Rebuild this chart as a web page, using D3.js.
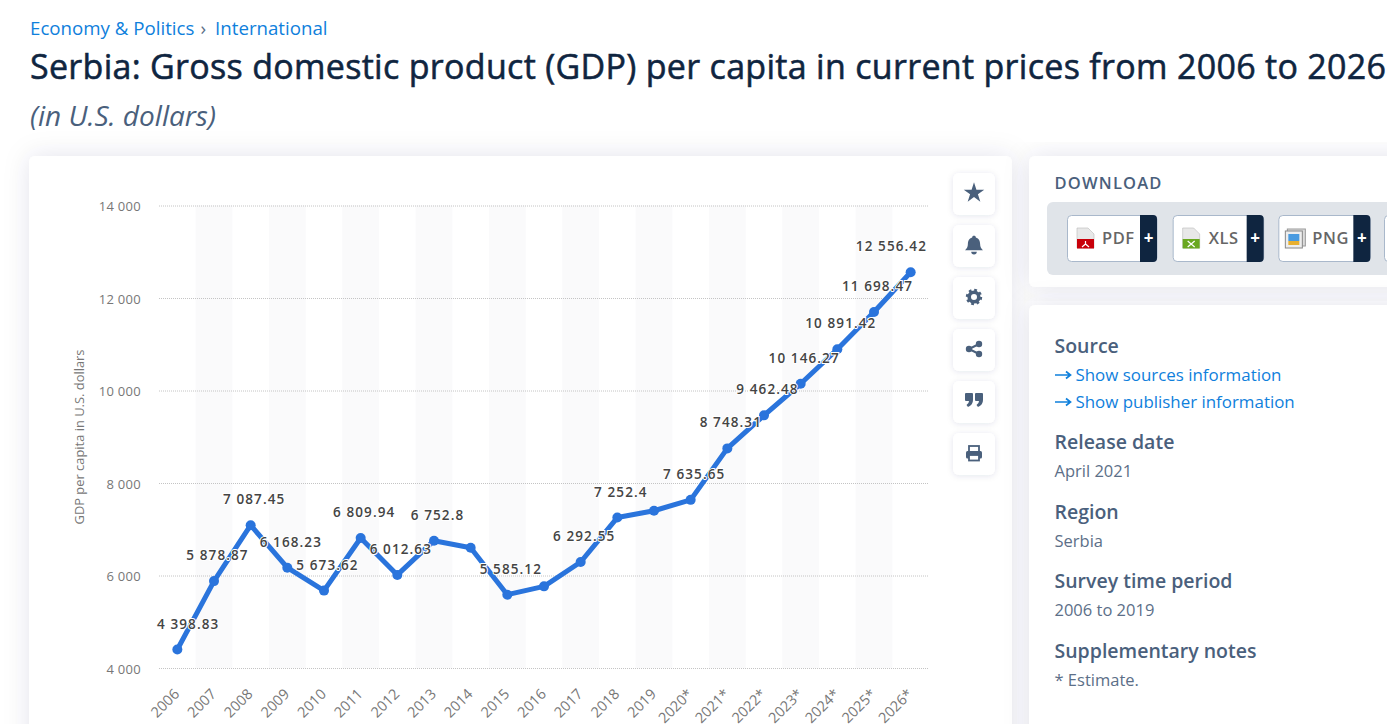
<!DOCTYPE html>
<html>
<head>
<meta charset="utf-8">
<script src="https://cdn.jsdelivr.net/npm/d3@7"></script>
<style>
  html, body { margin: 0; padding: 0; background: #fff; overflow: hidden; }
  svg { display: block; }
  text { font-family: "Open Sans", sans-serif; }
</style>
</head>
<body>
<div id="page"></div>
<script>
const years = ["2006", "2007", "2008", "2009", "2010", "2011", "2012", "2013", "2014", "2015", "2016",
    "2017", "2018", "2019", "2020*", "2021*", "2022*", "2023*", "2024*", "2025*", "2026*"];
const gdpValues = [4398.83, 5878.87, 7087.45, 6168.23, 5673.62, 6809.94, 6012.63, 6752.8, 6600, 5585.12, 5765,
    6292.55, 7252.4, 7400, 7635.65, 8748.31, 9462.48, 10146.27, 10891.42, 11698.47, 12556.42];
// the original hides the labels of these three years
const hiddenLabels = ["2014", "2016", "2019"];
const yTicks = [4000, 6000, 8000, 10000, 12000, 14000];

const infoBlocks = [
    {head: "Source", y: 353, links: ["Show sources information", "Show publisher information"]},
    {head: "Release date", y: 449, lines: ["April 2021"]},
    {head: "Region", y: 519, lines: ["Serbia"]},
    {head: "Survey time period", y: 588, lines: ["2006 to 2019"]},
    {head: "Supplementary notes", y: 658, lines: ["* Estimate."]}
];
const downloads = ["PDF", "XLS", "PNG"];

const svgWidth = 1387;
const svgHeight = 724;
const margin = {top: 205.5, right: 458, bottom: 56, left: 159};

const navy = "#0f2540";
const slate = "#4a607c";
const linkBlue = "#0f80dc";

const svg = d3.select("#page").append("svg")
    .attr("width", svgWidth)
    .attr("height", svgHeight);

const defs = svg.append("defs");
const softShadow = defs.append("filter").attr("id", "cardShadow")
    .attr("x", "-10%").attr("y", "-10%").attr("width", "120%").attr("height", "120%");
softShadow.append("feDropShadow").attr("dx", 0).attr("dy", 0).attr("stdDeviation", 13)
    .attr("flood-color", "#1a2f55").attr("flood-opacity", 0.11);
const btnShadow = defs.append("filter").attr("id", "btnShadow")
    .attr("x", "-30%").attr("y", "-30%").attr("width", "160%").attr("height", "160%");
btnShadow.append("feDropShadow").attr("dx", 0).attr("dy", 1).attr("stdDeviation", 3)
    .attr("flood-color", "#1a2f55").attr("flood-opacity", 0.11);

// page header
const crumb = svg.append("text").attr("x", 30).attr("y", 35)
    .attr("font-size", 18.7).attr("fill", linkBlue);
crumb.append("tspan").text("Economy & Politics");
crumb.append("tspan").attr("dx", 6).attr("fill", "#5c6f88").text("›");
crumb.append("tspan").attr("dx", 9).text("International");

// a thin stroke gives the medium weight of the original, which is not installed
svg.append("text").attr("x", 30).attr("y", 79)
    .attr("font-size", 34).attr("fill", navy)
    .attr("stroke", navy).attr("stroke-width", 0.55)
    .attr("textLength", 1356).attr("lengthAdjust", "spacing")
    .text("Serbia: Gross domestic product (GDP) per capita in current prices from 2006 to 2026");

svg.append("text").attr("x", 30).attr("y", 126)
    .attr("font-size", 28).attr("font-style", "italic").attr("fill", slate)
    .text("(in U.S. dollars)");

// cards
svg.append("rect").attr("x", 29).attr("y", 156).attr("width", 983).attr("height", 600)
    .attr("rx", 6).attr("fill", "#fff").attr("filter", "url(#cardShadow)");
svg.append("rect").attr("x", 1029).attr("y", 156).attr("width", 400).attr("height", 131)
    .attr("rx", 6).attr("fill", "#fff").attr("filter", "url(#cardShadow)");
svg.append("rect").attr("x", 1029).attr("y", 305).attr("width", 400).attr("height", 450)
    .attr("rx", 6).attr("fill", "#fff").attr("filter", "url(#cardShadow)");

// chart
const chartWidth = svgWidth - margin.left - margin.right;
const chartHeight = svgHeight - margin.top - margin.bottom;

const chartGroup = svg.append("g")
    .attr("transform", `translate(${margin.left}, ${margin.top})`);

const xScale = d3.scaleBand().domain(years).range([0, chartWidth]);
const yScale = d3.scaleLinear().domain([4000, 14000]).range([462.5, 0]);
const spaced = d3.formatLocale({decimal: ".", thousands: " ", grouping: [3], currency: ["", ""]});

// alternating stripes behind the plot
chartGroup.selectAll("rect.stripe")
    .data(years.filter((d, i) => i % 2 === 1))
    .enter()
    .append("rect")
    .classed("stripe", true)
    .attr("x", d => xScale(d))
    .attr("y", 0)
    .attr("width", xScale.bandwidth())
    .attr("height", yScale(4000))
    .attr("fill", "#fafafb");

const leftAxis = d3.axisLeft(yScale)
    .tickValues(yTicks)
    .tickSize(-chartWidth)
    .tickPadding(18)
    .tickFormat(spaced.format(","));

const yAxis = chartGroup.append("g").classed("y-axis", true).call(leftAxis);
yAxis.select(".domain").remove();
yAxis.selectAll("line")
    .attr("stroke", "#c4c4c4")
    .attr("stroke-dasharray", "1,1");
yAxis.selectAll("text")
    .attr("font-size", 13)
    .attr("fill", "#777")
    .attr("letter-spacing", 0.3)
    .attr("y", 1);

const bottomAxis = d3.axisBottom(xScale).tickSize(0).tickPadding(0);
const xAxis = chartGroup.append("g").classed("x-axis", true)
    .attr("transform", `translate(0, ${yScale(4000)})`)
    .call(bottomAxis);
xAxis.select(".domain").remove();
xAxis.selectAll("text")
    .attr("font-size", 14.5)
    .attr("fill", "#777")
    .attr("text-anchor", "end")
    .attr("dy", null)
    .attr("y", 0)
    .attr("transform", "translate(3, 27) rotate(-45)");

chartGroup.append("text")
    .attr("transform", "rotate(-90)")
    .attr("x", -(437 - margin.top))
    .attr("y", 80 - margin.left + 4)
    .attr("font-size", 12.9)
    .attr("fill", "#777")
    .attr("text-anchor", "middle")
    .text("GDP per capita in U.S. dollars");

const line = d3.line()
    .x((d, i) => xScale(years[i]) + xScale.bandwidth() / 2)
    .y(d => yScale(d));

chartGroup.append("path")
    .datum(gdpValues)
    .attr("fill", "none")
    .attr("stroke", "#2a74dc")
    .attr("stroke-width", 5)
    .attr("stroke-linejoin", "round")
    .attr("d", line);

chartGroup.selectAll("circle")
    .data(gdpValues)
    .enter()
    .append("circle")
    .attr("cx", (d, i) => xScale(years[i]) + xScale.bandwidth() / 2)
    .attr("cy", d => yScale(d))
    .attr("r", 5)
    .attr("fill", "#2a74dc");

// value labels, white halo like the original; pushed back inside at both plot ends
const labelFormat = spaced.format(",.2~f");
const valueLabels = chartGroup.selectAll("text.value")
    .data(gdpValues.map((v, i) => ({v, year: years[i]})).filter(d => !hiddenLabels.includes(d.year)))
    .enter()
    .append("text")
    .classed("value", true)
    .attr("y", d => yScale(d.v) - 21)
    .attr("text-anchor", "middle")
    .attr("font-size", 13.5)
    .attr("font-weight", 600)
    .attr("fill", "#444")
    .attr("stroke", "#fff")
    .attr("stroke-width", 2)
    .attr("paint-order", "stroke")
    .attr("letter-spacing", 1.1)
    .text(d => labelFormat(d.v));

valueLabels.attr("x", function(d) {
    const half = this.getComputedTextLength() / 2;
    const centre = xScale(d.year) + xScale.bandwidth() / 2 + 3.5;
    return Math.min(Math.max(centre, half - 2), chartWidth - half - 2);
});

// action buttons next to the chart
const actions = ["star", "bell", "gear", "share", "quote", "print"];
const actionGroup = svg.selectAll("g.action")
    .data(actions)
    .enter()
    .append("g")
    .classed("action", true)
    .attr("transform", (d, i) => `translate(974, ${194 + i * 52})`);
actionGroup.append("rect")
    .attr("x", -21).attr("y", -21).attr("width", 42).attr("height", 42).attr("rx", 6)
    .attr("fill", "#fff").attr("filter", "url(#btnShadow)");

const iconFill = "#4a607c";
const drawIcon = {
    star: g => g.append("path").attr("d", d3.symbol(d3.symbolStar, 130)()).attr("transform", "translate(0, -1)").attr("fill", iconFill),
    bell: g => {
        g = g.append("g").attr("transform", "translate(0, -1) scale(1.15)");
        g.append("path").attr("fill", iconFill)
            .attr("d", "M0,-8 C1,-8 1.6,-7.4 1.6,-6.6 C4.4,-5.8 5.3,-3.4 5.3,-1 C5.3,2 6.4,3.2 7.8,4.6 L-7.8,4.6 C-6.4,3.2 -5.3,2 -5.3,-1 C-5.3,-3.4 -4.4,-5.8 -1.6,-6.6 C-1.6,-7.4 -1,-8 0,-8 Z");
        g.append("path").attr("fill", iconFill).attr("d", "M-2.4,5.8 L2.4,5.8 A2.4,2.4 0 0 1 -2.4,5.8 Z");
    },
    gear: g => {
        g = g.append("g").attr("transform", "translate(0, -1)");
        g.append("circle").attr("r", 4.8).attr("fill", "none").attr("stroke", iconFill).attr("stroke-width", 3.6);
        g.append("circle").attr("r", 6.8).attr("fill", "none").attr("stroke", iconFill).attr("stroke-width", 2.8)
            .attr("stroke-dasharray", "2.67 2.67");
    },
    share: g => {
        g = g.append("g").attr("transform", "translate(0, -1)");
        g.append("path").attr("d", "M5,-5 L-5,0 L5,5").attr("fill", "none").attr("stroke", iconFill).attr("stroke-width", 2);
        [[5, -5], [-5, 0], [5, 5]].forEach(p => g.append("circle").attr("cx", p[0]).attr("cy", p[1]).attr("r", 3.2).attr("fill", iconFill));
    },
    quote: g => {
        [-9, 1].forEach(dx => g.append("path").attr("fill", iconFill)
            .attr("transform", `translate(${dx}, -9)`)
            .attr("d", "M1,0 L7,0 Q8,0 8,1 L8,7 Q8,12 3,14 L1.5,12 Q4,10.5 4,8 L1,8 Q0,8 0,7 L0,1 Q0,0 1,0 Z"));
    },
    print: g => {
        g = g.append("g").attr("transform", "translate(0, -1)");
        g.append("rect").attr("x", -8).attr("y", -2).attr("width", 16).attr("height", 7.5).attr("rx", 1.5).attr("fill", iconFill);
        g.append("rect").attr("x", -5).attr("y", -7).attr("width", 10).attr("height", 6).attr("fill", "none").attr("stroke", iconFill).attr("stroke-width", 1.8);
        g.append("rect").attr("x", -5).attr("y", 2).attr("width", 10).attr("height", 5.5).attr("fill", "#fff").attr("stroke", iconFill).attr("stroke-width", 1.8);
    }
};
actionGroup.each(function(d) { drawIcon[d](d3.select(this)); });

// download panel
svg.append("text").attr("x", 1054.5).attr("y", 189)
    .attr("font-size", 16.5).attr("font-weight", 600).attr("fill", slate).attr("letter-spacing", 1.2)
    .text("DOWNLOAD");
svg.append("rect").attr("x", 1047).attr("y", 202).attr("width", 400).attr("height", 73).attr("rx", 6).attr("fill", "#e0e4e9");

const buttonX = d3.scalePoint().domain(downloads.concat("more")).range([1067, 1384]);
const buttonW = {PDF: 90, XLS: 91, PNG: 92, more: 90};
const labelX = {PDF: 35, XLS: 36, PNG: 34};
const fileColour = {PDF: "#c8000a", XLS: "#6aa820", PNG: "#3f8fd6"};
const btnGroup = svg.selectAll("g.dl")
    .data(downloads.concat("more"))
    .enter()
    .append("g")
    .classed("dl", true)
    .attr("transform", d => `translate(${buttonX(d)}, 215)`);
btnGroup.append("rect")
    .attr("x", 0.5).attr("y", 0.5).attr("width", d => buttonW[d] - 0.5).attr("height", 46).attr("rx", 4)
    .attr("fill", "#fff").attr("stroke", "#a9b8cb");

const fileBtns = btnGroup.filter(d => d !== "more");
fileBtns.append("path")
    .attr("transform", d => `translate(${buttonW[d] - 17}, 0)`)
    .attr("d", "M0,0 H13 Q17,0 17,4 V43 Q17,47 13,47 H0 Z")
    .attr("fill", navy);
fileBtns.append("text")
    .attr("x", d => buttonW[d] - 8.5).attr("y", 28.5)
    .attr("text-anchor", "middle").attr("font-size", 17).attr("font-weight", 700).attr("fill", "#fff")
    .text("+");
fileBtns.append("text")
    .attr("x", d => labelX[d]).attr("y", 29)
    .attr("font-size", 16.5).attr("font-weight", 600).attr("fill", "#666").attr("letter-spacing", 0.5)
    .text(d => d);
// little file icons
fileBtns.filter(d => d !== "PNG").each(function(d) {
    const g = d3.select(this).append("g").attr("transform", "translate(10, 13)");
    g.append("path").attr("d", "M0,0 H11 L17,6 V20 H0 Z").attr("fill", "#e8e8e8").attr("stroke", "#bbb").attr("stroke-width", 0.6);
    g.append("rect").attr("y", 11).attr("width", 17).attr("height", 9.5).attr("fill", fileColour[d]);
    const mark = d === "PDF" ? "M8.5,13 L8.5,16 M8.5,16 L5,19 M8.5,16 L12,19" : "M5,19 L12,13 M5,13 L12,19";
    g.append("path").attr("d", mark).attr("fill", "none").attr("stroke", "#fff").attr("stroke-width", 1.2);
});
fileBtns.filter(d => d === "PNG").each(function() {
    const g = d3.select(this).append("g").attr("transform", "translate(7, 14)");
    g.append("rect").attr("x", 2).attr("width", 18).attr("height", 17).attr("fill", "#ddd").attr("stroke", "#999");
    g.append("rect").attr("y", 2).attr("width", 17).attr("height", 17).attr("fill", "#eee").attr("stroke", "#888");
    g.append("rect").attr("x", 3).attr("y", 5).attr("width", 11).attr("height", 7).attr("fill", "#4a9be0");
    g.append("rect").attr("x", 3).attr("y", 12).attr("width", 11).attr("height", 4).attr("fill", "#e8b030");
});

// info panel
infoBlocks.forEach(block => {
    svg.append("text").attr("x", 1054.5).attr("y", block.y)
        .attr("font-size", 19.5).attr("font-weight", 600).attr("fill", slate)
        .text(block.head);
    (block.links || []).forEach((t, i) => {
        const y = block.y + 28 + i * 27;
        svg.append("path")
            .attr("d", `M1055,${y - 6} H1070 M1066,${y - 9.5} L1070.5,${y - 6} L1066,${y - 2.5}`)
            .attr("fill", "none").attr("stroke", linkBlue).attr("stroke-width", 1.7);
        svg.append("text").attr("x", 1075.5).attr("y", y)
            .attr("font-size", 16.9).attr("fill", linkBlue)
            .text(t);
    });
    (block.lines || []).forEach((t, i) => {
        svg.append("text").attr("x", 1054.5).attr("y", block.y + 28 + i * 27)
            .attr("font-size", 16.5).attr("fill", "#5c6f88")
            .text(t);
    });
});
</script>
</body>
</html>
